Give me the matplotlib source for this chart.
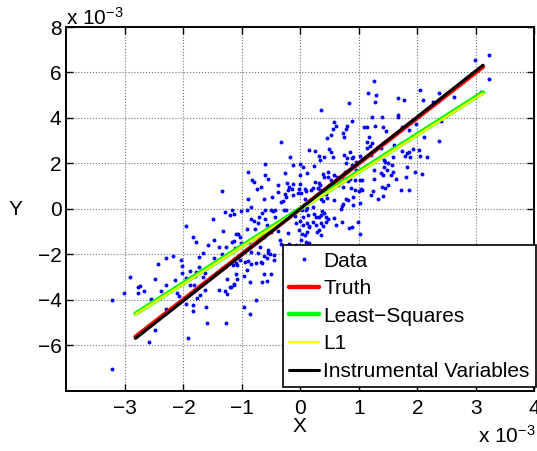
import numpy as np
import matplotlib
matplotlib.use("Agg")
import matplotlib.pyplot as plt
from matplotlib.ticker import FuncFormatter

plt.rcParams['font.family'] = ['Liberation Sans', 'DejaVu Sans']
plt.rcParams['mathtext.default'] = 'regular'

# scatter points, in units of 1e-3 (x, y)
points = [
    (2.99, 6.55), (3.22, 6.77), (3.23, 5.73), (3.08, 5.12), (2.05, 5.24), (2.36, 5.10), (2.09, 4.81),
    (1.66, 4.86), (1.77, 4.79), (1.66, 4.14), (1.67, 4.05), (2.62, 4.92), (1.40, 4.02), (1.41, 3.60),
    (1.47, 3.41), (1.73, 3.60), (1.85, 3.45), (2.12, 3.16), (2.36, 3.00), (1.60, 2.82), (1.93, 2.64),
    (2.02, 2.61), (1.73, 2.54), (1.82, 2.45), (1.85, 2.51), (1.59, 2.30), (1.79, 2.33), (1.88, 2.30),
    (2.04, 2.33), (2.16, 2.29), (1.45, 2.08), (1.50, 2.01), (1.57, 1.95), (1.82, 1.86), (1.41, 1.50),
    (1.48, 1.72), (1.58, 1.64), (1.96, 1.60), (2.07, 1.54), (1.64, 1.31), (1.81, 1.40), (1.50, 1.03),
    (1.45, 0.91), (1.72, 0.84), (1.85, 0.81), (2.26, 4.68), (2.41, 3.88),
    (1.26, 5.63), (1.15, 5.11), (1.29, 5.03), (1.28, 4.70), (0.83, 4.64), (0.35, 4.35), (1.22, 4.05),
    (0.88, 3.86), (0.78, 3.51), (0.58, 3.80), (0.60, 3.66), (0.56, 3.51), (0.72, 3.32), (0.74, 3.14),
    (1.09, 3.58), (1.14, 3.61), (1.28, 3.66), (1.17, 3.18), (1.97, 3.74), (0.15, 2.59), (0.48, 2.63),
    (0.52, 2.48), (0.32, 2.33), (0.41, 2.30), (0.56, 2.30), (0.75, 2.35), (0.85, 2.52), (0.90, 2.30),
    (0.88, 2.25), (-0.33, 2.92), (-0.18, 2.29), (-0.01, 1.98), (-0.13, 1.95), (-0.26, 1.57), (0.05, 1.85),
    (0.23, 1.89), (0.12, 1.57), (-0.01, 1.50), (-0.23, 1.15), (-0.12, 1.10), (-0.14, 0.88), (0.01, 0.69),
    (0.09, 0.78), (-0.27, 0.66), (-0.24, 0.54), (-0.12, 0.62), (0.24, 1.16), (0.32, 1.13), (0.33, 0.84),
    (0.38, 1.54), (0.41, 1.40), (0.47, 1.42), (0.53, 1.28), (0.57, 1.48), (0.62, 1.40), (0.76, 1.62),
    (0.64, 1.06), (0.73, 0.98), (0.86, 0.91), (1.00, 0.79), (1.05, 0.81), (1.24, 0.78), (1.21, 0.59),
    (1.39, 0.98), (1.55, 1.50), (1.42, 1.82),
    (0.80, 3.64), (0.45, 3.13), (0.52, 3.23), (1.14, 2.92), (1.18, 2.78), (1.22, 2.88), (1.14, 2.69),
    (1.38, 2.66), (1.41, 2.89), (1.21, 2.38), (1.42, 2.16), (1.25, 1.69), (1.37, 1.57), (1.25, 1.33),
    (1.32, 0.44), (1.41, 0.57), (0.24, 2.54), (0.33, 2.17), (0.79, 2.25), (0.78, 2.01), (0.95, 2.07),
    (1.01, 2.33), (0.88, 1.91), (0.95, 1.72), (0.47, 1.62), (0.71, 1.40), (0.77, 1.33), (0.85, 1.32),
    (0.81, 1.23), (1.02, 1.25), (1.05, 1.28), (0.93, 1.29), (0.18, 0.84), (0.34, 1.03), (0.30, 0.93),
    (0.22, 0.93), (0.48, 0.97), (0.43, 0.65), (0.35, 0.45), (0.39, 0.34), (0.45, 0.48), (0.57, 0.40),
    (0.71, 0.12), (0.69, 0.01), (0.72, 0.23), (0.77, 0.44), (0.81, 0.40), (0.90, 0.50), (1.04, 0.87),
    (0.94, 0.81), (0.89, 0.19), (1.01, 0.25), (0.12, 0.03), (0.21, 0.10), (0.13, -0.25), (0.23, -0.23),
    (0.27, -0.38), (0.31, -0.37), (0.35, -0.28), (0.35, -0.63), (0.40, -0.19), (0.44, -0.37),
    (0.47, -0.44), (0.37, -0.09), (0.21, -0.56), (0.27, -0.70), (0.15, -0.75), (0.11, -1.00),
    (0.28, -1.04), (0.32, -0.93), (0.39, -0.75), (0.35, -1.15), (0.44, -0.59), (0.14, -1.51),
    (0.12, -1.63), (0.58, -0.41), (0.60, -0.70), (0.71, -0.57), (0.83, -0.84), (0.88, -0.78),
    (0.98, -0.59), (1.01, -1.10),
    (-0.60, 1.97), (-0.89, 1.62), (-0.60, 1.51), (-0.55, 1.31), (-0.83, 1.28), (-0.80, 1.20),
    (-0.68, 0.98), (-0.74, 0.87), (-0.38, 1.03), (-0.20, 0.96), (-0.21, 0.81), (0.00, 1.10), (0.07, 0.88),
    (-0.02, 0.87), (-0.49, 0.52), (-0.39, 0.72), (-0.30, 0.35), (-0.33, 0.30), (-0.05, 0.69), (0.07, 0.45),
    (0.16, 0.40), (-0.90, 0.43), (-0.62, 0.44), (-1.17, -0.04), (-1.01, -0.09), (-0.92, -0.04),
    (-0.84, 0.06), (-0.65, -0.18), (-0.61, -0.06), (-0.50, -0.04), (-0.47, -0.10), (-0.44, -0.04),
    (-0.29, -0.04), (-0.25, -0.07), (-0.25, -0.38), (-0.18, -0.28), (-0.04, -0.07), (0.03, -0.06),
    (0.09, -0.04), (-0.84, -0.44), (-0.79, -0.53), (-0.71, -0.37), (-0.61, -0.45), (-0.73, -0.62),
    (-0.57, -0.72), (-0.46, -0.84), (-0.35, -0.63), (-0.32, -0.48), (-0.43, -0.37), (-1.07, -1.09),
    (-1.17, -1.47), (-1.04, -1.25), (-1.02, -1.51), (-0.92, -0.87), (-0.77, -0.88), (-0.88, -1.48),
    (-1.12, -1.73), (-0.62, -1.26), (-0.63, -1.10), (-0.51, -1.01), (-0.38, -0.98), (-0.35, -1.35),
    (-0.33, -1.53), (-0.22, -1.07), (-0.09, -0.32), (0.00, -0.53), (0.04, -0.34), (-0.03, -0.93),
    (-0.07, -0.63), (0.05, -0.70), (0.11, -0.62), (0.15, -0.81), (0.03, -1.10), (0.08, -1.16),
    (0.01, -1.37), (0.10, -1.48), (-0.07, -1.60), (-0.20, -1.53),
    (-0.56, -1.79), (-0.55, -1.94), (-0.52, -2.00), (-0.62, -2.08), (-0.57, -2.15), (-0.46, -2.23),
    (-0.68, -2.32), (-0.65, -2.38), (-0.76, -2.39), (-0.84, -2.41), (-0.95, -2.32), (-0.89, -2.30),
    (-1.03, -2.26), (-0.45, -2.03), (-0.69, -1.69), (-0.85, -1.91), (-0.72, -1.95), (-1.10, -2.39),
    (-1.08, -2.47), (-1.16, -2.47), (-0.92, -2.67), (-0.96, -2.94), (-1.10, -2.88), (-1.08, -3.10),
    (-0.86, -3.20), (-0.62, -2.88), (-0.51, -2.88), (-0.65, -3.20), (-0.57, -3.17), (-1.13, -3.35),
    (-1.19, -3.42), (-0.76, -4.00), (-0.96, -4.30), (-0.86, -4.63),
    (-1.35, 0.79), (-1.29, -0.16), (-1.21, -0.26), (-1.14, -0.22), (-1.50, -0.44), (-1.96, -0.74),
    (-1.33, -0.96), (-1.84, -1.26), (-1.78, -1.48), (-1.58, -1.57), (-1.48, -1.38), (-1.40, -1.69),
    (-1.27, -1.66), (-1.14, -1.42), (-1.10, -1.10), (-1.66, -1.93), (-1.35, -1.98), (-1.47, -2.15),
    (-1.73, -2.13), (-2.30, -2.17), (-2.18, -2.06), (-2.04, -2.26), (-2.43, -2.41), (-2.03, -2.51),
    (-1.88, -2.72), (-1.74, -2.55), (-1.78, -2.78), (-1.64, -2.83), (-1.80, -2.96), (-2.02, -2.83),
    (-1.96, -3.03), (-1.67, -3.01), (-1.26, -3.10), (-2.49, -3.10), (-2.15, -3.13), (-2.30, -3.35),
    (-2.75, -3.38), (-2.78, -3.45), (-2.67, -3.60), (-2.78, -3.71), (-3.01, -3.69), (-2.91, -3.00),
    (-2.39, -3.60), (-2.11, -3.70), (-2.08, -3.85), (-1.88, -3.33), (-1.82, -3.36), (-1.63, -3.58),
    (-1.72, -3.79), (-1.77, -3.91), (-1.39, -3.57), (-1.29, -3.63), (-1.25, -3.74), (-1.20, -3.42),
    (-1.13, -3.32), (-2.56, -3.98), (-2.30, -4.42), (-1.96, -4.20), (-1.84, -4.23), (-1.84, -4.48),
    (-1.61, -4.30), (-1.60, -5.03), (-1.27, -5.02), (-1.92, -5.70), (-2.49, -5.34), (-2.59, -5.87),
    (-3.23, -4.02), (-3.23, -7.05),
]
data_x, data_y = np.array(points).T * 1e-3

# fitted lines, endpoints in units of 1e-3
line_x = np.array([-2.82, 3.12]) * 1e-3
truth_y = np.array([-5.63, 6.25]) * 1e-3
ls_y = np.array([-4.61, 5.12]) * 1e-3
l1_y = np.array([-4.64, 5.08]) * 1e-3
iv_y = np.array([-5.70, 6.32]) * 1e-3

xticks = [-3, -2, -1, 0, 1, 2, 3, 4]
yticks = [-6, -4, -2, 0, 2, 4, 6, 8]

fs = 15
fig = plt.figure(figsize=(5.37, 4.51), dpi=100)
ax = fig.add_axes([0.1238, 0.1337, 0.8715, 0.8064])

ax.plot(data_x, data_y, 'o', color='#0000ff', ms=2.8, mew=0, label='Data')
ax.plot(line_x, truth_y, color='#ff0000', lw=3.2, solid_capstyle='round', label='Truth')
ax.plot(line_x, ls_y, color='#00ff00', lw=3.2, solid_capstyle='round', label='Least\u2212Squares')
ax.plot(line_x, l1_y, color='#ffff00', lw=1.6, solid_capstyle='round', label='L1')
ax.plot(line_x, iv_y, color='black', lw=2.2, solid_capstyle='round', label='Instrumental Variables')

ax.set_xlim(-4e-3, 4e-3)
ax.set_ylim(-8e-3, 8e-3)
ax.set_xticks(np.array(xticks) * 1e-3)
ax.set_yticks(np.array(yticks) * 1e-3)
fmt = FuncFormatter(lambda v, p: str(int(round(v * 1e3))).replace('-', '\u2212'))
ax.xaxis.set_major_formatter(fmt)
ax.yaxis.set_major_formatter(fmt)

ax.grid(True, linestyle=':', color='0.45', lw=0.8)
ax.tick_params(direction='in', top=True, right=True, length=5, width=1, labelsize=fs)
ax.tick_params(axis='x', pad=6)
ax.tick_params(axis='y', pad=3.5)
for s in ax.spines.values():
    s.set_linewidth(1.4)

fig.text(299.5 / 537, 1 - 426 / 451, 'X', ha='center', va='center', fontsize=fs)
fig.text(15 / 537, 1 - 210 / 451, 'Y', ha='center', va='center', fontsize=fs)
fig.text(66 / 537, 1 - 25 / 451, r'x 10$^{-3}$', ha='left', va='baseline', fontsize=fs)
fig.text(478 / 537, 1 - 443 / 451, r'x 10$^{-3}$', ha='left', va='baseline', fontsize=fs)

leg = ax.legend(loc='lower right', bbox_to_anchor=(1.003, 0.010), borderaxespad=0,
                fontsize=fs, handlelength=1.45, handletextpad=0.2, borderpad=0.3,
                labelspacing=0.41, numpoints=1, fancybox=False, framealpha=1,
                edgecolor='black')
leg.get_frame().set_linewidth(1.2)

fig.savefig('out.png', dpi=100)
